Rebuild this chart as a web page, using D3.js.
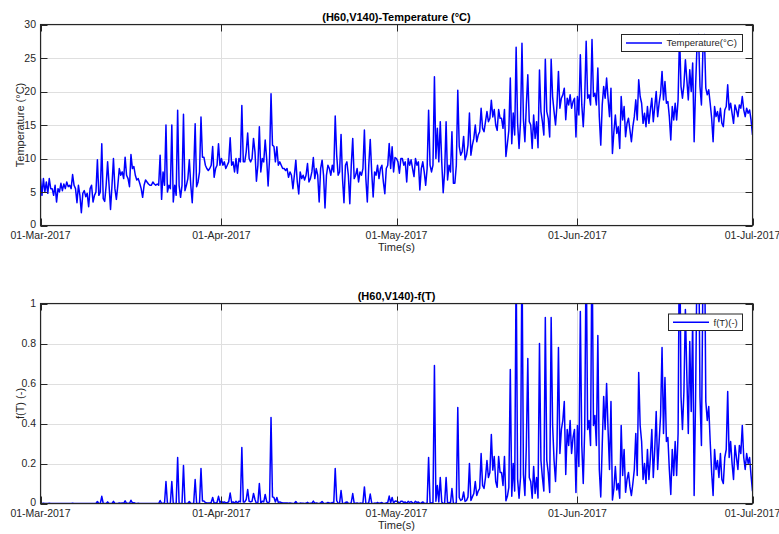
<!DOCTYPE html>
<html><head><meta charset="utf-8">
<script src="https://cdn.jsdelivr.net/npm/d3@7"></script>
<style>
body{margin:0;background:#fff}
svg{display:block}
text{font-family:"Liberation Sans",Arial,Helvetica,sans-serif;fill:#262626}
</style>
</head><body>
<svg id="chart" width="779" height="534"></svg>
<script>
// ---------------- DATA ----------------
const startDate = "2017-03-01T00:00:00Z";
const endDate = "2017-07-01T00:00:00Z";
const stepHours = 6; // one value every 6 hours
const monthTicks = ["2017-03-01","2017-04-01","2017-05-01","2017-06-01","2017-07-01"];
const tempTicks = [0,5,10,15,20,25,30];
const fTicks = [0,0.2,0.4,0.6,0.8,1];
const titles = ["(H60,V140)-Temperature (\u00B0C)", "(H60,V140)-f(T)"];
const yLabels = ["Temperature (\u00B0C)", "f(T) (-)"];
const legendLabels = ["Temperature(\u00B0C)", "f(T)(-)"];
const xLabel = "Time(s)";

const temperature = [
// March
7,4.5,7,5, 6.5,4.8,7,5.5, 5.5,4.5,6,3.5, 5.5,5,6.3,5.2, 6.2,5.5,6.5,5.8,
6,5.5,7.6,6, 5.5,3.4,6,4.5, 1.9,4.8,5.2,4.3, 4.8,2.8,5.5,6, 3.5,4.5,5,9.8,
4.5,5,12.2,4, 3.6,6,9.5,6, 2.4,6,10,5.5, 3.9,6,8.5,7.5, 8,7,10.2,7.5,
7,5.8,10.6,8.5, 8.8,7.5,6.8,7, 6.3,5.5,4.2,6, 6.8,6.5,6.2,6, 6,6.5,6.2,6,
6.2,6,10.5,3.9, 8,6,15,5, 6,5.5,15,3.5, 6,4.5,17.2,6, 4.2,6,16.6,5.2,
6,7,9.8,6, 3.4,8,15.2,5.8, 6.5,8,16.2,10.2, 10.2,9,8.5,8.2, 8.5,9,11.8,7.2,
8.5,9,12.2,9,
// April
10,9,9.5,8.5, 9,9.5,13.1,9, 9.5,8,10,7.8, 10,9.5,17.9,9.5, 9.5,11,13.8,10,
9.5,10,13,11, 6.6,9,14.75,8, 10,9.5,12.75,10, 5.9,10,19.65,12, 11.8,9.5,11.75,9,
9.5,9,8.5,8.5, 8.2,8.5,7.2,8, 7.5,5.5,7.5,9.75, 6.5,4.7,8,7, 7.5,6.8,7.5,9.25,
6.5,7,8,10.15, 7,8.5,7.5,3.5, 8.5,9.75,7.5,2.6, 7.5,9,8.5,7.5, 9,8,16.35,10.5,
7.5,8,13.6,7, 3.4,9,9.5,7.5, 3.25,9,13,7, 7.5,8.5,6.5,8, 7.5,8.5,14.25,7,
3.5,9,12.85,8, 4.25,8,7.5,9, 7,8.5,9,6.5, 4.75,8.5,9,12.25, 8.5,11.75,8,10.15,
// May
10,9.5,7.8,10, 10,9,9.5,6.5, 10,9,9.8,8.5, 7.3,10,9,9.5, 5.3,8.5,9.5,8,
6,8.5,17.2,9, 8,9,22.2,10, 14.5,9.5,15.5,9.5, 4.9,8,15.5,6.8, 9,8,14,6.3,
6.3,9,20.2,11.8, 10.5,11,13.3,9.8, 10.5,12,16.8,10.5, 12,13,15,12.5, 13.5,14,17.5,14.5,
14,15.5,17,15.5, 16,18.7,16.2,17.3, 15,14.2,17.3,16, 16,14.5,17.3,10.3, 12.2,14.2,22,12.2,
16.8,13.5,26.6,15.3, 11.5,15.5,27.2,15.8, 12.5,18,22.5,15.5, 15,11.5,16.5,13, 15.5,11.6,23.2,17,
15.5,13.5,24.8,17, 16,13.2,24.8,19.2, 17,15,18,23, 17.5,19,19.5,20.5, 15.8,19,18,19.5,
17.5,18.5,19,13.2,
// June
19.25,16.5,25.5,18, 14.75,19,27.5,19, 19.5,18,27.75,19.25, 19.75,18,23.5,16.25, 12,18,20.75,19,
22,19,16.25,20.5, 10.75,14,16.5,13.75, 14.75,11.5,19.25,15.75, 17.75,13.25,15.25,16, 14.25,12.5,14.75,16.25,
18.75,15.75,21.75,19.25, 18.25,15.25,16.75,14.75, 17.75,15.25,17.25,19, 15.5,17.75,20,16.25, 18.25,19.75,23,18.75,
21.5,18.25,18.5,16.25, 12.75,17.75,15.75,18.25, 15.75,18.75,28.5,20.75, 19,21,24.75,21.75, 18.75,23.25,20,24.25,
12.5,20.75,27,28.5, 20.75,18,26,28.5, 20.5,19.5,20.25,18.25, 16,12.5,17.75,16.25, 17,15.5,17.5,15.25,
14.75,17.25,17.75,21, 17.25,18.25,16.75,15.25, 18,17.25,16.25,18, 17.5,19.25,17.25,16.25, 17.5,16.75,17.25,15.75,
// 1 July 00:00
13.5
];

const fT = [
// March
0.001,0,0.001,0, 0,0,0.001,0, 0,0,0,0, 0,0,0,0, 0,0,0,0,
0,0,0.001,0, 0,0,0,0, 0,0,0,0, 0,0,0,0, 0,0,0,0.01,
0,0,0.036,0, 0,0,0.008,0, 0,0,0.011,0, 0,0,0.003,0.001, 0.002,0.001,0.013,0.001,
0.001,0,0.016,0.003, 0.004,0.001,0,0.001, 0,0,0,0, 0,0,0,0, 0,0,0,0,
0,0,0.015,0, 0.002,0,0.11,0, 0,0,0.11,0, 0,0,0.23,0, 0,0,0.19,0,
0,0.001,0.01,0, 0,0.002,0.12,0, 0,0.002,0.175,0.013, 0.013,0.005,0.003,0.002, 0.003,0.005,0.03,0.001,
0.003,0.005,0.036,0.005,
// April
0.011,0.005,0.008,0.003, 0.005,0.008,0.052,0.005, 0.008,0.002,0.011,0.002, 0.011,0.008,0.28,0.008, 0.008,0.02,0.07,0.011,
0.008,0.011,0.05,0.02, 0,0.005,0.1,0.002, 0.011,0.008,0.045,0.011, 0,0.011,0.43,0.033, 0.03,0.008,0.03,0.005,
0.008,0.005,0.003,0.003, 0.002,0.003,0.001,0.002, 0.001,0,0.001,0.01, 0,0,0.002,0.001, 0.001,0,0.001,0.006,
0,0.001,0.002,0.012, 0.001,0.003,0.001,0, 0.003,0.01,0.001,0, 0.001,0.005,0.003,0.001, 0.005,0.002,0.175,0.015,
0.001,0.002,0.065,0.001, 0,0.005,0.008,0.001, 0,0.005,0.05,0.001, 0.001,0.003,0,0.002, 0.001,0.003,0.083,0.001,
0,0.005,0.047,0.002, 0,0.002,0.001,0.005, 0.001,0.003,0.005,0, 0,0.003,0.005,0.037, 0.003,0.03,0.002,0.012,
// May
0.011,0.008,0.002,0.011, 0.011,0.005,0.008,0, 0.011,0.005,0.01,0.003, 0.001,0.011,0.005,0.008, 0,0.003,0.008,0.002,
0,0.003,0.23,0.005, 0.002,0.005,0.69,0.011, 0.09,0.008,0.13,0.008, 0,0.002,0.13,0, 0.005,0.002,0.075,0,
0,0.005,0.48,0.03, 0.015,0.02,0.057,0.01, 0.015,0.033,0.2,0.015, 0.033,0.05,0.11,0.04, 0.062,0.075,0.25,0.09,
0.075,0.13,0.215,0.13, 0.155,0.345,0.167,0.235, 0.11,0.081,0.235,0.155, 0.155,0.09,0.235,0.014, 0.036,0.081,0.67,0.036,
0.2,0.062,1.2,0.122, 0.026,0.13,1.28,0.145, 0.04,0.29,0.725,0.13, 0.11,0.026,0.185,0.05, 0.13,0.027,0.8,0.215,
0.13,0.062,0.93,0.215, 0.155,0.055,0.93,0.39, 0.215,0.11,0.29,0.78, 0.25,0.37,0.415,0.51, 0.145,0.37,0.29,0.415,
0.25,0.33,0.37,0.055,
// June
0.39,0.185,0.96,0.29, 0.1,0.37,1.3,0.37, 0.415,0.29,1.35,0.39, 0.44,0.29,0.84,0.17, 0.033,0.29,0.535,0.37,
0.6,0.37,0.17,0.51, 0.017,0.075,0.185,0.068, 0.1,0.026,0.39,0.14, 0.27,0.056,0.12,0.155, 0.083,0.04,0.1,0.17,
0.35,0.14,0.655,0.39, 0.31,0.12,0.2,0.1, 0.27,0.12,0.23,0.37, 0.13,0.27,0.46,0.17, 0.31,0.44,0.78,0.35,
0.63,0.31,0.33,0.17, 0.045,0.27,0.14,0.31, 0.14,0.35,1.48,0.535, 0.37,0.56,0.97,0.64, 0.35,0.81,0.46,0.92,
0.04,0.535,1.25,1.48, 0.535,0.29,1.12,1.48, 0.51,0.415,0.485,0.31, 0.155,0.04,0.27,0.17, 0.215,0.13,0.25,0.12,
0.1,0.23,0.27,0.56, 0.23,0.31,0.2,0.12, 0.29,0.23,0.17,0.29, 0.25,0.39,0.23,0.17, 0.25,0.2,0.23,0.14,
// 1 July 00:00
0.062
];

// ---------------- DRAWING ----------------
const svg = d3.select("#chart");
const t0 = new Date(startDate).getTime();
const timeOf = i => new Date(t0 + i * stepHours * 3600e3);
const fmt = d3.utcFormat("%d-%b-%Y");

const panels = [
  {values: temperature, ticks: tempTicks, domain: [0,30], top: 24.5, bottom: 225.5,
   title: titles[0], ylabel: yLabels[0], legend: legendLabels[0],
   tickFmt: d => d3.format("d")(d),
   leg: {x: 621.5, y: 34.5, w: 121, h: 17}},
  {values: fT, ticks: fTicks, domain: [0,1], top: 303.5, bottom: 503.5,
   title: titles[1], ylabel: yLabels[1], legend: legendLabels[1],
   tickFmt: d => (d === 0 || d === 1) ? String(d) : d3.format(".1f")(d),
   leg: {x: 668.5, y: 314, w: 74, h: 16.5}}
];

const left = 40.5, right = 752.5;
const x = d3.scaleUtc().domain([new Date(startDate), new Date(endDate)]).range([left, right]);
const xTickDates = monthTicks.map(s => new Date(s + "T00:00:00Z"));
const axisColor = "#262626", gridColor = "#dfdfdf", lineColor = "#0000ff";
const tickLen = 7;

panels.forEach((p, k) => {
  const y = d3.scaleLinear().domain(p.domain).range([p.bottom, p.top]);
  const g = svg.append("g");

  // grid
  g.append("g").selectAll("line").data(p.ticks).join("line")
    .attr("x1", left).attr("x2", right)
    .attr("y1", d => Math.round(y(d)) + 0.5).attr("y2", d => Math.round(y(d)) + 0.5)
    .attr("stroke", gridColor).attr("stroke-width", 1);
  g.append("g").selectAll("line").data(xTickDates).join("line")
    .attr("x1", d => Math.round(x(d)) + 0.5).attr("x2", d => Math.round(x(d)) + 0.5)
    .attr("y1", p.top).attr("y2", p.bottom)
    .attr("stroke", gridColor).attr("stroke-width", 1);

  // clip
  const cid = "clip" + k;
  svg.append("clipPath").attr("id", cid).append("rect")
    .attr("x", left).attr("y", p.top).attr("width", right - left).attr("height", p.bottom - p.top);

  const line = d3.line().x((d, i) => x(timeOf(i))).y(d => y(d));
  g.append("path").datum(p.values)
    .attr("clip-path", `url(#${cid})`)
    .attr("fill", "none").attr("stroke", lineColor).attr("stroke-width", 1.5)
    .attr("stroke-linejoin", "round")
    .attr("d", line);

  // box
  g.append("rect").attr("x", left).attr("y", p.top).attr("width", right - left).attr("height", p.bottom - p.top)
    .attr("fill", "none").attr("stroke", axisColor).attr("stroke-width", 1.1);

  // y ticks (left and right, inward)
  p.ticks.forEach(v => {
    const yy = Math.round(y(v)) + 0.5;
    g.append("line").attr("x1", left).attr("x2", left + tickLen).attr("y1", yy).attr("y2", yy).attr("stroke", axisColor);
    g.append("line").attr("x1", right - tickLen).attr("x2", right).attr("y1", yy).attr("y2", yy).attr("stroke", axisColor);
    g.append("text").attr("x", left - 4.5).attr("y", y(v) - (v === p.domain[0] ? 1 : 0)).attr("dy", "0.36em")
      .attr("text-anchor", "end").style("font-size", "10.5px").text(p.tickFmt(v));
  });
  // x ticks (bottom and top, inward)
  xTickDates.forEach(d => {
    const xx = Math.round(x(d)) + 0.5;
    g.append("line").attr("x1", xx).attr("x2", xx).attr("y1", p.bottom).attr("y2", p.bottom - tickLen).attr("stroke", axisColor);
    g.append("line").attr("x1", xx).attr("x2", xx).attr("y1", p.top).attr("y2", p.top + tickLen).attr("stroke", axisColor);
    g.append("text").attr("x", x(d)).attr("y", p.bottom + 13.5)
      .attr("text-anchor", "middle").style("font-size", "10.5px").text(fmt(d));
  });

  // titles and labels
  g.append("text").attr("x", (left + right) / 2).attr("y", p.top - 4)
    .attr("text-anchor", "middle").style("font-size", "11px").style("font-weight", "bold")
    .style("fill", "#000").text(p.title);
  g.append("text").attr("x", (left + right) / 2).attr("y", p.bottom + 25.5)
    .attr("text-anchor", "middle").style("font-size", "11px").text(xLabel);
  g.append("text")
    .attr("transform", `translate(23.5,${(p.top + p.bottom) / 2}) rotate(-90)`)
    .attr("text-anchor", "middle").style("font-size", "11px").text(p.ylabel);

  // legend
  const L = p.leg;
  g.append("rect").attr("x", L.x).attr("y", L.y).attr("width", L.w).attr("height", L.h)
    .attr("fill", "#fff").attr("stroke", axisColor).attr("stroke-width", 1);
  g.append("line").attr("x1", L.x + 4.5).attr("x2", L.x + 40.5)
    .attr("y1", L.y + L.h / 2).attr("y2", L.y + L.h / 2)
    .attr("stroke", lineColor).attr("stroke-width", 1.5);
  g.append("text").attr("x", L.x + 45).attr("y", L.y + L.h / 2).attr("dy", "0.36em")
    .style("font-size", "9.5px").text(p.legend);
});
</script>
</body></html>
